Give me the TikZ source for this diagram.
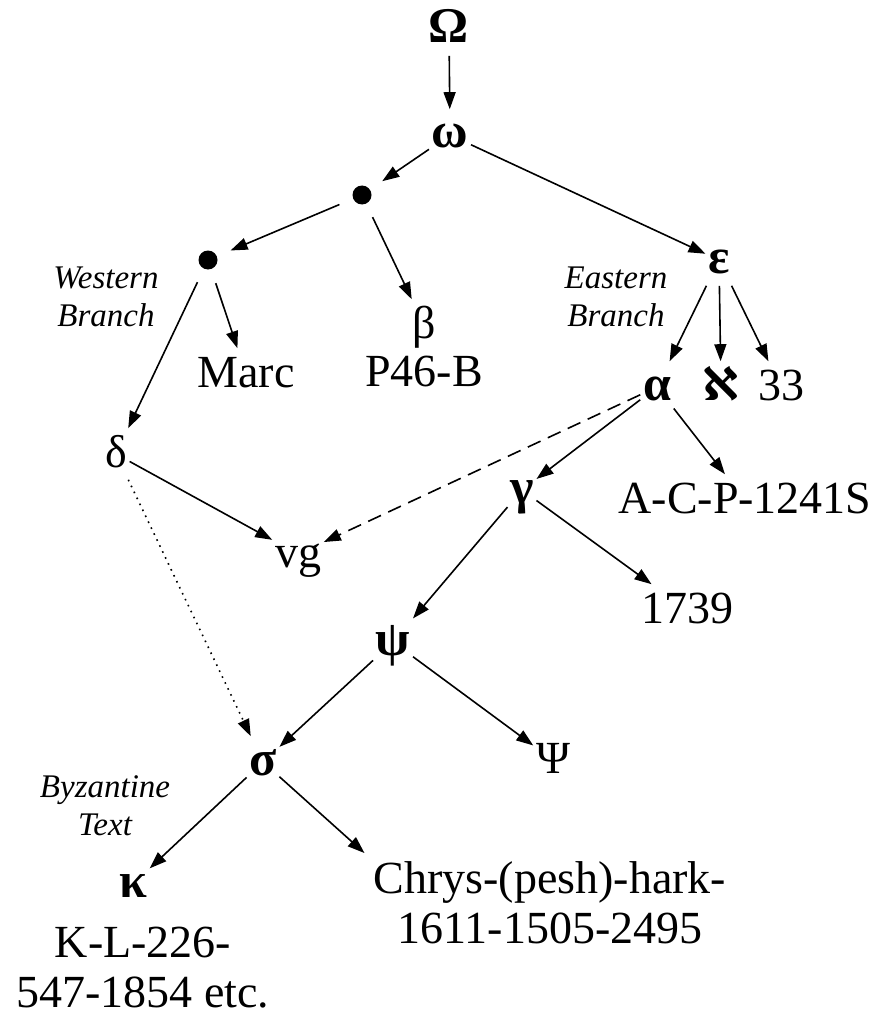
\documentclass[tikz,border=0pt]{standalone}
\usepackage{fontspec}
\setmainfont{Liberation Serif}
\newfontfamily\alephfont{DejaVu Sans}
\usetikzlibrary{arrows.meta}
\tikzset{every path/.style={line width=1.6pt},
  ms/.style={font=\fontsize{46}{51}\selectfont, inner sep=2pt, text height=36pt, text depth=10pt},
  gk/.style={ms, font=\fontsize{50}{51}\selectfont\bfseries},
  twoline/.style={font=\fontsize{46}{50}\selectfont, align=center, inner sep=4pt},
  branch/.style={font=\fontsize{33}{38}\selectfont\itshape, align=center, inner sep=0pt},
  dot/.style={circle, fill, inner sep=0pt, minimum size=19pt, outer sep=15pt},
  arr/.style={-{Triangle[length=17pt,width=12pt]}}}

\begin{document}
\begin{tikzpicture}[x=1pt,y=-1pt]
   \useasboundingbox (0,0) rectangle (881,1019);
   % top of the tree
   \node[gk,anchor=base] (Om) at (449,43) {Ω};
   \node[gk,anchor=base] (om) at (450,148) {ω};
   \node[dot] (d1) at (362,195) {};
   \node[dot] (d2) at (208,260) {};
   \node[gk,anchor=base] (eps) at (719,273) {ε};
   \node[branch] (west) at (106,297) {Western\\Branch};
   \node[branch] (east) at (616,297) {Eastern\\Branch};
   \node[ms,anchor=base] (beta) at (424,338) {β};
   \node[ms,anchor=base] (p46) at (424,386) {P46-B};
   \node[ms,anchor=base] (marc) at (246,387) {Marc};
   \node[gk,anchor=base] (alpha) at (657,400) {α};
   \node[ms,anchor=base] (aleph) at (721,400) {\alephfont\bfseries ℵ};
   \node[ms,anchor=base] (n33) at (781,400) {33};
   % middle
   \node[ms,anchor=base] (delta) at (116,467) {δ};
   \node[gk,anchor=base] (gamma) at (522,503) {γ};
   \node[ms,anchor=base] (acp) at (745,513) {A-C-P-1241S};
   \node[ms,anchor=base] (vg) at (298,567) {vg};
   \node[gk,anchor=base] (psi) at (393,655) {ψ};
   \node[ms,anchor=base] (n1739) at (687,623) {1739};
   % bottom
   \node[gk,anchor=base] (sigma) at (263,775) {σ};
   \node[ms,anchor=base] (Psi) at (553,773) {Ψ};
   \node[branch] (byz) at (105,806) {Byzantine\\Text};
   \node[gk,anchor=base] (kappa) at (133,897) {κ};
   \node[twoline] (kl) at (143,968) {K-L-226-\\547-1854 etc.};
   \node[twoline] (chrys) at (550,903) {Chrys-(pesh)-hark-\\1611-1505-2495};

   \draw[arr] (Om) -- (om);
   \draw[arr] (om) -- (d1);
   \draw[arr] (om) -- (eps);
   \draw[arr] (d1) -- (d2);
   \draw[arr] (d1) -- (beta);
   \draw[arr] (d2) -- (marc);
   \draw[arr] (d2) -- (delta);
   \draw[arr] (eps) -- (alpha);
   \draw[arr] (eps) -- (aleph);
   \draw[arr] (eps) -- (n33);
   \draw[arr,dash pattern=on 14pt off 8pt] (alpha) -- (vg);
   \draw[arr] (alpha) -- (gamma);
   \draw[arr] (alpha) -- (acp);
   \draw[arr] (delta) -- (vg);
   \draw[arr,dash pattern=on 1.6pt off 5pt] (delta) -- (sigma);
   \draw[arr] (gamma) -- (psi);
   \draw[arr] (gamma) -- (n1739);
   \draw[arr] (psi) -- (sigma);
   \draw[arr] (psi) -- (Psi);
   \draw[arr] (sigma) -- (kappa);
   \draw[arr,shorten >=6pt] (sigma) -- (chrys.north west);
\end{tikzpicture}
\end{document}
